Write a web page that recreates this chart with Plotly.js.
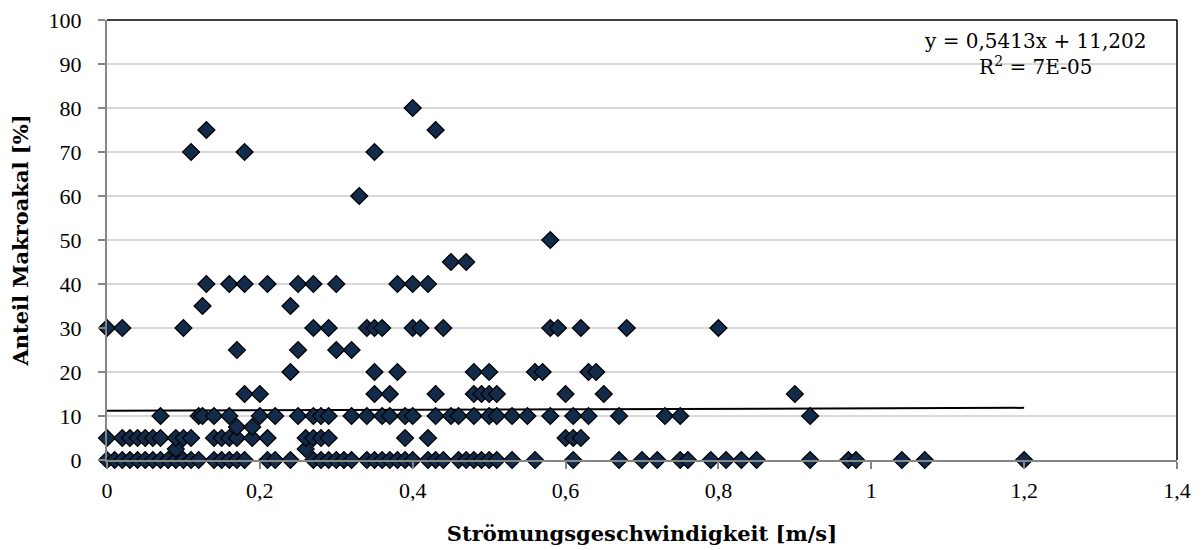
<!DOCTYPE html>
<html>
<head>
<meta charset="utf-8">
<script src="https://cdn.plot.ly/plotly-3.0.1.min.js"></script>
<style>html,body{margin:0;padding:0;background:#fff;}#chart{width:1203px;height:550px;}</style>
</head>
<body>
<div id="chart"></div>
<script>
// Flow velocity [m/s] grouped by share value [%]
const x0  = [0,0.01,0.02,0.03,0.04,0.05,0.06,0.07,0.08,0.09,0.1,0.11,0.12,0.14,0.15,0.16,0.17,0.18,0.21,0.22,0.24,0.27,0.28,0.29,0.3,0.31,0.32,0.34,0.35,0.36,0.37,0.38,0.39,0.4,0.42,0.43,0.44,0.46,0.47,0.48,0.49,0.5,0.51,0.53,0.56,0.61,0.67,0.7,0.72,0.75,0.76,0.79,0.81,0.83,0.85,0.92,0.97,0.98,1.04,1.07,1.2];
const x2_5 = [0.09,0.26];
const x5  = [0,0.02,0.03,0.04,0.05,0.06,0.07,0.09,0.1,0.11,0.14,0.15,0.16,0.17,0.19,0.21,0.26,0.27,0.28,0.29,0.39,0.42,0.6,0.61,0.62];
const x7_5 = [0.17,0.19];
const x10 = [0.07,0.12,0.125,0.14,0.16,0.2,0.22,0.25,0.27,0.28,0.29,0.32,0.34,0.36,0.37,0.39,0.4,0.43,0.45,0.46,0.48,0.5,0.51,0.53,0.55,0.58,0.61,0.63,0.67,0.73,0.75,0.92];
const x15 = [0.18,0.2,0.35,0.37,0.43,0.48,0.49,0.5,0.51,0.6,0.65,0.9];
const x20 = [0.24,0.35,0.38,0.48,0.5,0.56,0.57,0.63,0.64];
const x25 = [0.17,0.25,0.3,0.32];
const x30 = [0,0.02,0.1,0.27,0.29,0.34,0.35,0.36,0.4,0.41,0.44,0.58,0.59,0.62,0.68,0.8];
const x35 = [0.125,0.24];
const x40 = [0.13,0.16,0.18,0.21,0.25,0.27,0.3,0.38,0.4,0.42];
const x45 = [0.45,0.47];
const x50 = [0.58];
const x60 = [0.33];
const x70 = [0.11,0.18,0.35];
const x75 = [0.13,0.43];
const x80 = [0.4];

const groups = [[0,x0],[2.5,x2_5],[5,x5],[7.5,x7_5],[10,x10],[15,x15],[20,x20],[25,x25],[30,x30],[35,x35],[40,x40],[45,x45],[50,x50],[60,x60],[70,x70],[75,x75],[80,x80]];

// Trend line (linear): y = slope*x + intercept
const trendSlope = 0.5413;
const trendIntercept = 11.202;
const trendRange = [0, 1.2];

const xTickVals = [0,0.2,0.4,0.6,0.8,1,1.2,1.4];
const xTickText = ["0","0,2","0,4","0,6","0,8","1","1,2","1,4"];
const yTickVals = [0,10,20,30,40,50,60,70,80,90,100];

const xs = [], ys = [];
groups.forEach(([yv, arr]) => arr.forEach(v => { xs.push(v); ys.push(yv); }));

const tickFont = "Liberation Serif, serif";
const serif = "DejaVu Serif, Liberation Serif, serif";

const traces = [
  {
    x: trendRange,
    y: trendRange.map(v => trendSlope*v + trendIntercept),
    mode: 'lines', type: 'scatter',
    line: {color: '#000', width: 2},
    hoverinfo: 'skip', cliponaxis: false
  },
  {
    x: xs, y: ys, mode: 'markers', type: 'scatter', cliponaxis: false,
    marker: {symbol: 'diamond', size: 13, color: '#132B4A', line: {color: '#000', width: 1.3}}
  }
];

const layout = {
  width: 1203, height: 550,
  margin: {l: 107, r: 26, t: 20, b: 90},
  paper_bgcolor: '#fff', plot_bgcolor: '#fff',
  showlegend: false,
  font: {family: serif, size: 20, color: '#000'},
  xaxis: {
    range: [0, 1.4], tickvals: xTickVals, ticktext: xTickText,
    showgrid: false, zeroline: false,
    showline: true, linecolor: '#868686', linewidth: 2,
    ticks: 'outside', ticklen: 7, tickcolor: '#868686', tickwidth: 2,
    ticklabelstandoff: 3,
    tickfont: {family: tickFont, size: 22, color: '#000'},
    title: {text: '<b>Strömungsgeschwindigkeit [m/s]</b>', font: {family: serif, size: 21, color: '#000'}, standoff: 24}
  },
  yaxis: {
    range: [0, 100], tickvals: yTickVals,
    showgrid: true, gridcolor: '#d9d9d9', gridwidth: 1.5,
    zeroline: false,
    showline: true, linecolor: '#868686', linewidth: 2,
    ticks: 'outside', ticklen: 7, tickcolor: '#868686', tickwidth: 2,
    ticklabelstandoff: 12,
    tickfont: {family: tickFont, size: 22, color: '#000'},
    title: {text: '<b>Anteil Makroakal [%]</b>', font: {family: serif, size: 21, color: '#000'}, standoff: 14}
  },
  shapes: [
    {type: 'line', xref: 'paper', yref: 'paper', x0: 0, x1: 1, y0: 1, y1: 1, line: {color: '#000', width: 1.5}},
    {type: 'line', xref: 'paper', yref: 'paper', x0: 1, x1: 1, y0: 0, y1: 1, line: {color: '#000', width: 1.5}}
  ],
  annotations: [
    {xref: 'paper', yref: 'paper', x: 0.973, y: 0.985, xanchor: 'right', yanchor: 'top', align: 'center', showarrow: false,
     text: 'y = 0,5413x + 11,202<br>R<sup>2</sup> = 7E-05', font: {family: serif, size: 20, color: '#000'}}
  ]
};

Plotly.newPlot('chart', traces, layout, {displayModeBar: false, staticPlot: true});
</script>
</body>
</html>
